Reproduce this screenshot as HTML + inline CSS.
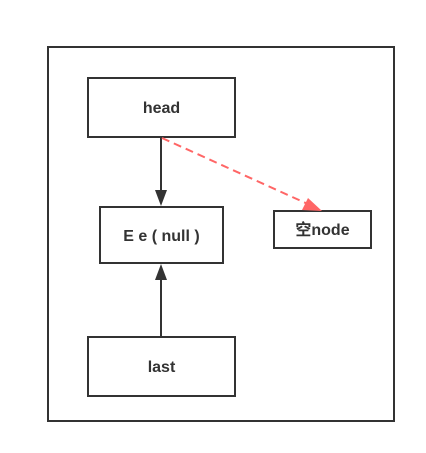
<!DOCTYPE html>
<html><head><meta charset="utf-8"><style>
html,body{margin:0;padding:0;background:#fff;}
svg{display:block;}
text{font-family:"Liberation Sans","Noto Sans CJK SC",sans-serif;font-weight:bold;font-size:16px;fill:#333;}
</style></head><body>
<svg width="426" height="453" viewBox="0 0 426 453">
<rect x="48" y="47" width="346" height="374" fill="none" stroke="#333" stroke-width="2"/>
<rect x="88" y="78" width="147" height="59" fill="#fff" stroke="#333" stroke-width="2"/>
<text x="161.5" y="113" text-anchor="middle">head</text>
<rect x="100" y="207" width="123" height="56" fill="#fff" stroke="#333" stroke-width="2"/>
<text x="161.5" y="241" text-anchor="middle">E e ( null )</text>
<rect x="274" y="211" width="97" height="37" fill="#fff" stroke="#333" stroke-width="2"/>
<text x="322.5" y="235" text-anchor="middle">空node</text>
<rect x="88" y="337" width="147" height="59" fill="#fff" stroke="#333" stroke-width="2"/>
<text x="161.5" y="372" text-anchor="middle">last</text>
<line x1="161" y1="138" x2="161" y2="194" stroke="#333" stroke-width="2"/>
<polygon points="155,190 167,190 161,206" fill="#333"/>
<line x1="161" y1="336" x2="161" y2="276" stroke="#333" stroke-width="2"/>
<polygon points="155,280 167,280 161,264" fill="#333"/>
<line x1="162" y1="138" x2="310" y2="205" stroke="#ff6666" stroke-width="2" stroke-dasharray="8,5"/>
<polygon points="322,211 302,210 308,198" fill="#ff6666"/>
</svg>
</body></html>
